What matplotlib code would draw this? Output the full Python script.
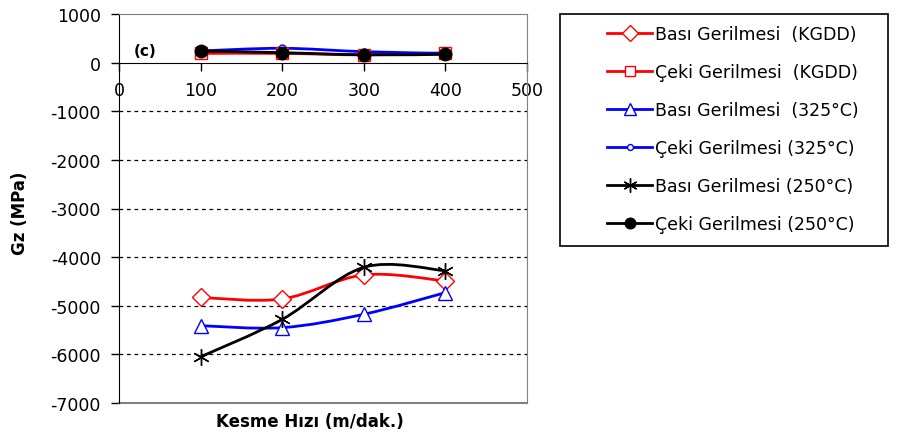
import matplotlib
matplotlib.use("Agg")
import matplotlib.pyplot as plt
from matplotlib.path import Path
from matplotlib.patches import PathPatch, Rectangle
from matplotlib.lines import Line2D

plt.rcParams['font.family'] = ['DejaVu Sans']
plt.rcParams['axes.unicode_minus'] = False

hiz = [100, 200, 300, 400]

basi_kgdd = [-4830, -4860, -4365, -4490]
ceki_kgdd = [190, 190, 160, 200]
basi_325 = [-5410, -5450, -5175, -4730]
ceki_325 = [240, 295, 225, 190]
basi_250 = [-6050, -5280, -4210, -4280]
ceki_250 = [240, 205, 160, 170]

etiketler = ['Bası Gerilmesi  (KGDD)', 'Çeki Gerilmesi  (KGDD)',
             'Bası Gerilmesi  (325°C)', 'Çeki Gerilmesi (325°C)',
             'Bası Gerilmesi (250°C)', 'Çeki Gerilmesi (250°C)']

asterisk = (6, 2, 0)
seriler = [
    (basi_kgdd, 'red', 'D', 'none', 9),
    (ceki_kgdd, 'red', 's', 'none', 9),
    (basi_325, 'blue', '^', 'none', 10),
    (ceki_325, 'blue', 'o', 'none', 5),
    (basi_250, 'black', asterisk, 'black', 12),
    (ceki_250, 'black', 'o', 'black', 9),
]


def smooth_path(xs, ys):
    # excel-like smoothed line: catmull-rom as cubic bezier
    pts = list(zip(xs, ys))
    verts = [pts[0]]
    codes = [Path.MOVETO]
    n = len(pts)
    for i in range(n - 1):
        p0 = pts[max(i - 1, 0)]
        p1 = pts[i]
        p2 = pts[i + 1]
        p3 = pts[min(i + 2, n - 1)]
        c1 = (p1[0] + (p2[0] - p0[0]) / 6, p1[1] + (p2[1] - p0[1]) / 6)
        c2 = (p2[0] - (p3[0] - p1[0]) / 6, p2[1] - (p3[1] - p1[1]) / 6)
        verts += [c1, c2, p2]
        codes += [Path.CURVE4] * 3
    return Path(verts, codes)


fig = plt.figure(figsize=(9, 4.39), dpi=100)
ax = fig.add_axes([119 / 900, 1 - 404 / 439, 408 / 900, 389 / 439])

ax.set_xlim(0, 500)
ax.set_ylim(-7000, 1000)

for y in range(-6000, 0, 1000):
    ax.axhline(y, color='black', ls=(0, (3, 3)), lw=0.9, zorder=1)

handles = []
for (vals, col, mk, fc, ms), lab in zip(seriler, etiketler):
    ax.add_patch(PathPatch(smooth_path(hiz, vals), fill=False, edgecolor=col,
                           lw=2, zorder=3))
    mfc = fc if fc != 'none' else 'white'
    ax.plot(hiz, vals, ls='none', marker=mk, ms=ms, mfc=mfc,
            mec=col, mew=1.0, zorder=4)
    handles.append(Line2D([], [], color=col, lw=2, marker=mk, ms=ms * 0.85,
                          mfc=mfc, mec=col, mew=1.0))

ax.set_xticks([0, 100, 200, 300, 400, 500])
ax.set_yticks(range(-7000, 1001, 1000))
ax.spines['bottom'].set_position(('data', 0))
ax.spines['bottom'].set_color('black')
ax.spines['left'].set_color('black')
ax.spines['top'].set_color('#808080')
ax.spines['right'].set_color('#808080')
ax.axhline(-7000, color='#808080', lw=1.5, clip_on=False, zorder=2)
ax.tick_params(axis='both', direction='out', length=6, width=1, pad=7,
               labelsize=12.5, colors='black')

ax.text(0.035, 0.895, '(c)', transform=ax.transAxes, fontsize=11,
        fontweight='bold')

fig.text(310 / 900, 1 - 422 / 439, 'Kesme Hızı (m/dak.)', ha='center',
         va='center', fontsize=12, fontweight='bold')
fig.text(20 / 900, 1 - 213 / 439, 'Gz (MPa)', ha='center', va='center',
         rotation=90, fontsize=12, fontweight='bold')

fig.patches.append(Rectangle((560 / 900, 1 - 247 / 439), 328 / 900, 232 / 439,
                             transform=fig.transFigure, fill=False,
                             edgecolor='black', lw=1.2))
fig.legend(handles, etiketler, loc='upper left',
           bbox_to_anchor=(607 / 900, 1 - 26 / 439), frameon=False,
           fontsize=12.5, handlelength=2.6, handletextpad=0.15,
           labelspacing=1.15, borderpad=0, borderaxespad=0)

fig.savefig('out.png', dpi=100)
